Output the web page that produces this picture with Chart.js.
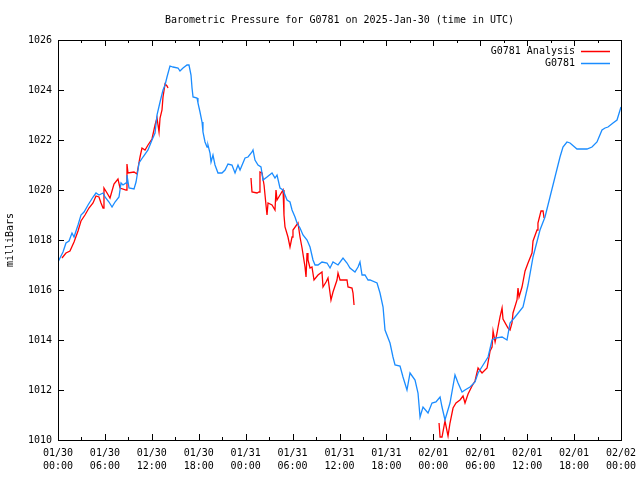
<!DOCTYPE html>
<html>
<head>
<meta charset="utf-8">
<script src="https://cdn.jsdelivr.net/npm/chart.js@4.4.1/dist/chart.umd.min.js"></script>
<style>
  body { margin: 0; background: #fff; }
</style>
</head>
<body>
<canvas id="chart" width="640" height="480"></canvas>
<script>
// hours since 2025-01-30 00:00 UTC, pressure in mb
const blueHours = [0, 0.64, 1.02, 1.41, 1.79, 2.05, 2.56, 2.94, 3.33, 3.84, 4.48, 4.86, 5.24, 5.76, 6.01, 6.52, 6.91, 7.29, 7.8, 8.06,
  8.31, 8.7, 8.82, 9.08, 9.72, 9.98, 10.23, 10.36, 10.87, 11.51, 12.02, 12.41, 12.66, 13.05, 13.43, 13.69, 13.94, 14.32, 14.71, 15.35,
  15.6, 15.99, 16.5, 16.75, 16.88, 17.01, 17.14, 17.27, 17.78, 17.9, 18.16, 18.42, 18.54, 18.8, 19.06, 19.18, 19.44, 19.57, 19.82, 20.08,
  20.46, 20.97, 21.36, 21.74, 22.25, 22.64, 23.02, 23.28, 23.92, 24.3, 24.81, 24.94, 25.19, 25.58, 25.96, 26.22, 26.73, 27.37, 27.75, 28.01,
  28.39, 28.78, 29.29, 29.67, 29.93, 30.31, 30.57, 30.95, 31.33, 31.85, 32.23, 32.61, 32.87, 33.25, 33.76, 34.4, 34.79, 35.17, 35.81, 36.45,
  36.96, 37.34, 37.98, 38.37, 38.62, 38.88, 39.26, 39.65, 39.9, 40.8, 41.18, 41.57, 41.82, 42.46, 42.84, 43.1, 43.74, 44.12, 44.63, 45.02,
  45.66, 46.04, 46.3, 46.68, 47.32, 47.83, 48.34, 48.86, 49.11, 49.49, 50.13, 50.77, 51.16, 51.67, 52.05, 52.69, 53.33, 53.72, 54.36, 55.0,
  55.51, 55.9, 56.79, 57.42, 57.81, 58.45, 59.47, 60.11, 60.75, 61.64, 62.28, 62.92, 63.56, 64.2, 64.58, 65.09, 65.48, 66.37, 67.65, 68.29,
  68.93, 69.57, 69.96, 70.34, 70.98, 71.49, 72];
const blueMb = [1017.12, 1017.52, 1017.88, 1017.96, 1018.28, 1018.12, 1018.6, 1019.0, 1019.12, 1019.4, 1019.72, 1019.88, 1019.8, 1019.88, 1019.72, 1019.52, 1019.32, 1019.52, 1019.72, 1020.28,
  1020.2, 1020.28, 1020.6, 1020.08, 1020.04, 1020.32, 1020.8, 1021.08, 1021.32, 1021.6, 1022.0, 1022.28, 1023.0, 1023.52, 1024.0, 1024.2, 1024.52, 1024.96, 1024.92, 1024.88,
  1024.76, 1024.88, 1025.0, 1025.0, 1024.8, 1024.6, 1024.08, 1023.72, 1023.68, 1023.48, 1023.12, 1022.72, 1022.32, 1021.92, 1021.72, 1021.8, 1021.48, 1021.12, 1021.4, 1021.0,
  1020.68, 1020.68, 1020.8, 1021.04, 1021.0, 1020.68, 1021.0, 1020.8, 1021.28, 1021.32, 1021.52, 1021.6, 1021.2, 1021.0, 1020.92, 1020.4, 1020.52, 1020.68, 1020.48, 1020.6,
  1020.08, 1020.0, 1019.6, 1019.52, 1019.2, 1018.92, 1018.68, 1018.48, 1018.2, 1018.0, 1017.72, 1017.2, 1017.0, 1017.0, 1017.12, 1017.08, 1016.88, 1017.12, 1017.0, 1017.28,
  1017.08, 1016.88, 1016.72, 1016.92, 1017.12, 1016.6, 1016.6, 1016.4, 1016.4, 1016.28, 1015.88, 1015.32, 1014.4, 1013.88, 1013.32, 1013.0, 1012.96, 1012.52, 1012.0, 1012.68,
  1012.4, 1011.88, 1010.92, 1011.32, 1011.08, 1011.48, 1011.52, 1011.72, 1011.32, 1010.8, 1011.48, 1012.6, 1012.28, 1011.92, 1012.0, 1012.12, 1012.32, 1012.68, 1013.0, 1013.32,
  1014.0, 1014.08, 1014.12, 1014.0, 1014.68, 1014.92, 1015.32, 1016.2, 1017.32, 1018.4, 1018.92, 1019.72, 1020.52, 1021.32, 1021.72, 1021.92, 1021.88, 1021.64, 1021.64, 1021.72,
  1021.92, 1022.4, 1022.48, 1022.52, 1022.68, 1022.8, 1023.32];

// analysis series, null marks a gap in the record
const analysisHours = [0.51, 1.02, 1.53, 2.05, 2.56, 2.94, 3.45, 3.96, 4.48, 4.86, 5.24, 5.5, 5.76, 5.88, 6.27, 6.65, 7.16, 7.67, 7.93, 8.7,
  8.82, 8.95, 9.72, 10.1, 10.49, 10.74, 11.13, 11.51, 12.02, 12.41, 12.66, 12.92, 13.05, 13.3, 13.43, 13.69, 13.94, 14.07,
  20,
  24.68, 24.81, 25.45, 25.71, 25.83, 26.09, 26.35, 26.6, 26.73, 26.86, 27.37, 27.75, 27.88, 28.01, 28.39, 28.78, 28.9, 29.03, 29.41, 29.67,
  29.93, 30.05, 30.69, 30.95, 31.21, 31.59, 31.72, 31.85, 31.97, 32.23, 32.48, 32.74, 33.25, 33.76, 33.89, 34.28, 34.53, 34.91, 35.17, 35.68,
  35.81, 36.07, 36.96, 37.09, 37.6, 37.73, 37.86,
  43,
  48.73, 48.86, 49.11, 49.49, 49.88, 50.13, 50.52, 50.9, 51.41, 51.8, 52.05, 52.44, 52.95, 53.33, 53.72, 54.23, 54.87, 55.26, 55.51, 55.64,
  55.9, 56.15, 56.28, 56.53, 56.79, 56.91, 57.55, 57.81, 58.06, 58.19, 58.7, 58.83, 58.96, 59.34, 59.73, 60.11, 60.62, 60.75, 61.26, 61.38,
  61.77, 62.03, 62.16];
const analysisMb = [1017.28, 1017.48, 1017.56, 1017.92, 1018.36, 1018.76, 1019.0, 1019.28, 1019.48, 1019.76, 1019.72, 1019.48, 1019.28, 1020.08, 1019.88, 1019.68, 1020.24, 1020.44, 1020.08, 1020.0,
  1021.04, 1020.68, 1020.72, 1020.64, 1021.32, 1021.68, 1021.6, 1021.8, 1022.04, 1022.6, 1022.88, 1022.32, 1022.88, 1023.2, 1023.72, 1024.24, 1024.16, 1024.08,
  null,
  1020.48, 1019.92, 1019.88, 1019.92, 1020.72, 1020.68, 1020.2, 1019.4, 1019.0, 1019.48, 1019.4, 1019.2, 1020.0, 1019.6, 1019.8, 1020.0, 1019.0, 1018.52, 1018.12, 1017.72,
  1018.12, 1018.4, 1018.68, 1018.12, 1017.68, 1016.92, 1016.52, 1017.48, 1017.2, 1016.88, 1016.92, 1016.4, 1016.6, 1016.72, 1016.12, 1016.32, 1016.48, 1015.6, 1015.92, 1016.4,
  1016.68, 1016.4, 1016.4, 1016.12, 1016.08, 1015.88, 1015.4,
  null,
  1010.68, 1010.12, 1010.12, 1010.76, 1010.16, 1010.68, 1011.28, 1011.48, 1011.6, 1011.76, 1011.48, 1011.84, 1012.16, 1012.36, 1012.88, 1012.68, 1012.88, 1013.56, 1013.72, 1014.36,
  1013.92, 1014.28, 1014.52, 1014.92, 1015.28, 1014.84, 1014.48, 1014.4, 1014.68, 1015.08, 1015.6, 1016.08, 1015.72, 1016.12, 1016.76, 1017.08, 1017.48, 1017.96, 1018.4, 1018.68,
  1019.16, 1019.16, 1018.88];

const xTickLabels = [
  ['01/30', '00:00'], ['01/30', '06:00'], ['01/30', '12:00'], ['01/30', '18:00'],
  ['01/31', '00:00'], ['01/31', '06:00'], ['01/31', '12:00'], ['01/31', '18:00'],
  ['02/01', '00:00'], ['02/01', '06:00'], ['02/01', '12:00'], ['02/01', '18:00'],
  ['02/02', '00:00']
];

const toPoints = (xs, ys) => xs.map((h, i) => ({ x: h, y: ys[i] }));

Chart.defaults.font.family = "'DejaVu Sans Mono', monospace";
Chart.defaults.font.size = 10;
Chart.defaults.color = '#000';

// gnuplot style frame: border plus inward ticks on all four sides
const frameTicks = {
  id: 'frameTicks',
  afterDatasetsDraw(chart) {
    const { ctx, chartArea: a, scales: { x, y } } = chart;
    ctx.save();
    ctx.strokeStyle = '#000';
    ctx.lineWidth = 1;
    ctx.beginPath();
    const majors = x.ticks.map(t => t.value);
    majors.forEach((v, i) => {
      const px = Math.round(x.getPixelForValue(v)) + 0.5;
      ctx.moveTo(px, a.bottom); ctx.lineTo(px, a.bottom - 6);
      ctx.moveTo(px, a.top); ctx.lineTo(px, a.top + 6);
      if (i < majors.length - 1) {
        const mx = Math.round(x.getPixelForValue((v + majors[i + 1]) / 2)) + 0.5;
        ctx.moveTo(mx, a.bottom); ctx.lineTo(mx, a.bottom - 3);
        ctx.moveTo(mx, a.top); ctx.lineTo(mx, a.top + 3);
      }
    });
    y.ticks.forEach(t => {
      const py = Math.round(y.getPixelForValue(t.value)) + 0.5;
      ctx.moveTo(a.left, py); ctx.lineTo(a.left + 6, py);
      ctx.moveTo(a.right, py); ctx.lineTo(a.right - 6, py);
    });
    ctx.stroke();
    ctx.strokeRect(Math.round(a.left) + 0.5, Math.round(a.top) + 0.5, Math.round(a.width), Math.round(a.height));
    ctx.restore();
  }
};

// key in the top right corner, text to the left of the sample line
const insideLegend = {
  id: 'insideLegend',
  afterDraw(chart) {
    const { ctx, chartArea: a } = chart;
    ctx.save();
    ctx.font = "10px 'DejaVu Sans Mono', monospace";
    ctx.textAlign = 'right';
    ctx.textBaseline = 'middle';
    chart.data.datasets.forEach((ds, i) => {
      const yy = Math.round(a.top + 11 + i * 12) + 0.5;
      ctx.fillStyle = '#000';
      ctx.fillText(ds.label, a.right - 46, yy);
      ctx.strokeStyle = ds.borderColor;
      ctx.lineWidth = 1.5;
      ctx.beginPath();
      ctx.moveTo(a.right - 40, yy);
      ctx.lineTo(a.right - 11, yy);
      ctx.stroke();
    });
    ctx.restore();
  }
};

new Chart(document.getElementById('chart'), {
  type: 'line',
  data: {
    datasets: [
      {
        label: 'G0781 Analysis',
        data: toPoints(analysisHours, analysisMb),
        borderColor: '#ff0000',
        spanGaps: false,
        order: 1
      },
      {
        label: 'G0781',
        data: toPoints(blueHours, blueMb),
        borderColor: '#1a8cff',
        order: 0
      }
    ]
  },
  options: {
    responsive: false,
    animation: false,
    layout: { padding: { right: 19 } },
    elements: {
      point: { radius: 0 },
      line: { borderWidth: 1.3, tension: 0 }
    },
    plugins: {
      legend: { display: false },
      tooltip: { enabled: false },
      title: {
        display: true,
        text: 'Barometric Pressure for G0781 on 2025-Jan-30 (time in UTC)',
        fullSize: false,
        font: { size: 10, weight: 'normal', lineHeight: 1.2 },
        padding: { top: 14, bottom: 14 }
      }
    },
    scales: {
      x: {
        type: 'linear',
        min: 0,
        max: 72,
        grid: { display: false, drawTicks: false },
        border: { display: false },
        ticks: {
          stepSize: 6,
          autoSkip: false,
          maxRotation: 0,
          padding: 7,
          font: { lineHeight: 1.3 },
          callback: v => xTickLabels[Math.round(v / 6)]
        },
        afterFit: s => { s.height = 40; s.paddingLeft = 0; s.paddingRight = 0; }
      },
      y: {
        min: 1010,
        max: 1026,
        grid: { display: false, drawTicks: false },
        border: { display: false },
        ticks: { stepSize: 2, padding: 6, callback: v => v.toFixed(0) },
        title: { display: true, text: 'milliBars', padding: { top: 4, bottom: 0 } },
        afterFit: s => { s.width = 58; }
      }
    }
  },
  plugins: [frameTicks, insideLegend]
});
</script>
</body>
</html>
